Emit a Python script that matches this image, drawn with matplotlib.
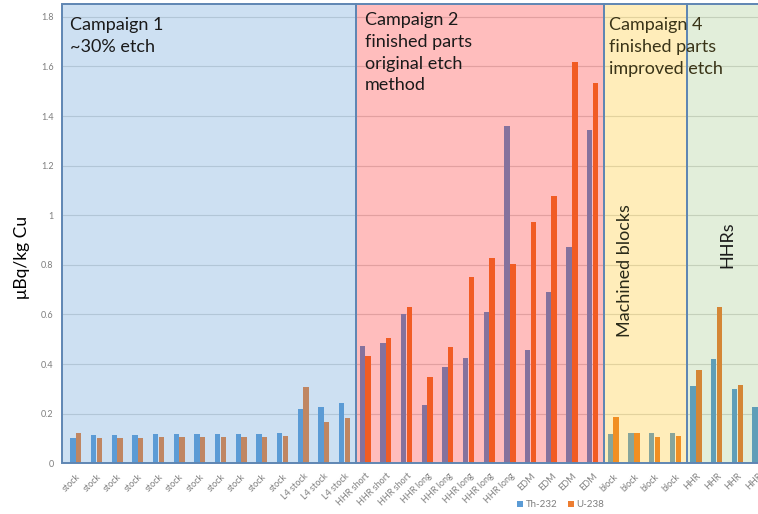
import matplotlib
matplotlib.use('Agg')
import matplotlib.pyplot as plt
from matplotlib.patches import Rectangle
import numpy as np

plt.rcParams['font.family'] = ['Lato', 'DejaVu Sans']

# categories, left to right
labels = (['stock'] * 11 + ['L4 stock'] * 3 + ['HHR short'] * 3 + ['HHR long'] * 5
          + ['EDM'] * 4 + ['block'] * 4 + ['HHR'] * 4)

th232 = [0.101, 0.114, 0.114, 0.114, 0.118, 0.118, 0.118, 0.118, 0.118, 0.118, 0.123,
         0.219, 0.228, 0.242,
         0.474, 0.484, 0.601,
         0.235, 0.387, 0.423, 0.611, 1.360,
         0.457, 0.689, 0.871, 1.344,
         0.118, 0.123, 0.121, 0.123,
         0.312, 0.421, 0.300, 0.228]
u238 = [0.121, 0.101, 0.101, 0.101, 0.105, 0.105, 0.105, 0.105, 0.107, 0.107, 0.109,
        0.309, 0.165, 0.181,
        0.434, 0.506, 0.632,
        0.349, 0.470, 0.750, 0.828, 0.802,
        0.974, 1.078, 1.619, 1.534,
        0.185, 0.121, 0.107, 0.110,
        0.376, 0.632, 0.317, 0.250]

# campaign boxes: number of categories in each and overlay colour/alpha
box_sizes = [14, 12, 4, 4]
box_colors = [('#5B9BD5', 0.30), ('#FF0000', 0.26), ('#FFC000', 0.27), ('#70AD47', 0.20)]

fig = plt.figure(figsize=(7.58, 5.14), dpi=100)
ax = fig.add_axes([62 / 758, 50.7 / 514, 696 / 758, 459.3 / 514])

x = np.arange(len(labels))
ytop = 1.852
ax.set_xlim(-0.667, 32.99)
ax.set_ylim(0, ytop)

ax.set_yticks(np.arange(0, 1.81, 0.2))
ax.set_yticklabels(['0', '0.2', '0.4', '0.6', '0.8', '1', '1.2', '1.4', '1.6', '1.8'])
ax.yaxis.grid(True, color='#D9D9D9', lw=0.8, zorder=0)
ax.set_axisbelow(True)

ax.bar(x - 0.14, th232, 0.26, color='#5B9BD5', label='Th-232', zorder=2)
ax.bar(x + 0.14, u238, 0.26, color='#ED7D31', label='U-238', zorder=2)

# translucent campaign boxes drawn over the bars
edges = [-0.667] + list(np.cumsum(box_sizes) - 0.45)
edges[-1] = 36
for (c, a), x0, x1 in zip(box_colors, edges[:-1], edges[1:]):
    ax.add_patch(Rectangle((x0, 0), x1 - x0, ytop, facecolor=c, alpha=a,
                           edgecolor='none', zorder=3, clip_on=False))
    ax.add_patch(Rectangle((x0, 0), x1 - x0, ytop, facecolor='none',
                           edgecolor='#5F86B3', lw=1.4, zorder=4, clip_on=False))

for s in ['top', 'right', 'left', 'bottom']:
    ax.spines[s].set_visible(False)

ax.set_xticks(x)
ax.set_xticklabels(labels, rotation=45, ha='right', rotation_mode='anchor',
                   fontsize=6.5, color='#7F7F7F')
ax.tick_params(axis='x', length=0, pad=6)
ax.tick_params(axis='y', length=0, pad=6, labelsize=6.5, labelcolor='#7F7F7F')

ax.set_ylabel('μBq/kg Cu', fontsize=12.5, color='black')
ax.yaxis.set_label_coords(-0.046, 0.449)

tk = dict(transform=ax.transData, fontsize=13, va='top', ha='left', zorder=6,
          linespacing=1.45)
ax.text(-0.3, 1.80, 'Campaign 1\n~30% etch', color='#1A1A1A', **tk)
ax.text(14.0, 1.82, 'Campaign 2\nfinished parts\noriginal etch\nmethod', color='#1A1A1A', **tk)
ax.text(25.8, 1.80, 'Campaign 4\nfinished parts\nimproved etch', color='#3A3418', **tk)
ax.text(26.56, 0.776, 'Machined blocks', rotation=90, ha='center', va='center',
        fontsize=13, color='#2A2A18', zorder=6)
ax.text(31.54, 0.88, 'HHRs', rotation=90, ha='center', va='center',
        fontsize=13, color='#1A1A1A', zorder=6)

fig.legend(loc='center', bbox_to_anchor=(0.74, 0.018), ncol=2, frameon=False,
           fontsize=7, labelcolor='#7F7F7F', handlelength=0.6, handleheight=0.6,
           handletextpad=0.3, columnspacing=1.0)

fig.savefig('out.png', dpi=100)
